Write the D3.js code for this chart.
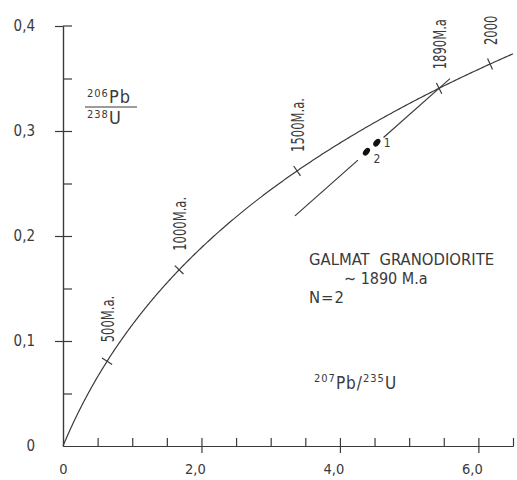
<!DOCTYPE html>
<html>
<head>
<meta charset="utf-8">
<script src="https://cdn.jsdelivr.net/npm/d3@7"></script>
<style>
  html, body { margin: 0; padding: 0; background: #fff; }
  svg { display: block; }
  text { font-family: "DejaVu Sans Condensed", "DejaVu Sans", sans-serif; fill: #3a3a3a; }
</style>
</head>
<body>
<svg id="chart" width="517" height="480"></svg>
<script>
// U-Pb concordia diagram, Galmat granodiorite

// decay constants (per year)
const lambda238 = 1.55125e-10;
const lambda235 = 9.8485e-10;

// ages marked on the concordia (Ma) and their labels
const markerAges = [500, 1000, 1500, 1890, 2000];
const markerLabels = ["500M.a.", "1000M.a.", "1500M.a.", "1890M.a", "2000"];

// zircon fractions: 207Pb/235U, 206Pb/238U
const sampleIds = ["1", "2"];
const sampleX = [4.533, 4.383];
const sampleY = [0.2889, 0.2803];

// discordia: intercept ages (Ma) and drawn pieces in 207Pb/235U
const discordiaAges = [255, 1890];
const discordiaPieces = [[3.35, 4.26], [4.63, 5.59]];

// axis ticks
const xMajor = [0, 2, 4, 6];
const xMinor = [0.5, 1, 1.5, 2, 2.5, 3, 3.5, 4, 4.5, 5, 5.5, 6, 6.5];
const xTickLabels = ["0", "2,0", "4,0", "6,0"];
const yMajor = [0, 0.1, 0.2, 0.3, 0.4];
const yMinor = [0.05, 0.1, 0.15, 0.2, 0.25, 0.3, 0.35];
const yTickLabels = ["0", "0,1", "0,2", "0,3", "0,4"];

const svg = d3.select("#chart");
const ink = "#3a3a3a";

const x = d3.scaleLinear().domain([0, 6.5]).range([63, 513]);
const y = d3.scaleLinear().domain([0, 0.4]).range([446, 26]);

const conc = t => ({
  x: Math.exp(lambda235 * t * 1e6) - 1,
  y: Math.exp(lambda238 * t * 1e6) - 1
});

// ---------- axes ----------
const gy = svg.append("g");
gy.append("g").attr("transform", `translate(${x(0)},0)`)
  .call(d3.axisRight(y).tickValues(yMinor).tickSize(9).tickSizeOuter(0).tickFormat(""));
gy.append("g").attr("transform", `translate(${x(0)},0)`)
  .call(d3.axisLeft(y).tickValues(yMajor).tickSize(8).tickSizeOuter(0).tickPadding(20)
    .tickFormat((d, i) => yTickLabels[i]));
gy.selectAll(".tick").filter(d => d === 0).select("line").remove();
// top end tick crosses the axis
gy.append("line").attr("x1", x(0)).attr("x2", x(0) + 9).attr("y1", y(0.4)).attr("y2", y(0.4));

const gx = svg.append("g");
gx.append("g").attr("transform", `translate(0,${y(0)})`)
  .call(d3.axisTop(x).tickValues(xMinor).tickSize(8).tickSizeOuter(0).tickFormat(""));
gx.append("g").attr("transform", `translate(0,${y(0)})`)
  .call(d3.axisBottom(x).tickValues(xMajor).tickSize(7).tickSizeOuter(0).tickPadding(11)
    .tickFormat((d, i) => xTickLabels[i]));
gx.selectAll(".tick").filter(d => d === 0).select("line").remove();
gx.selectAll(".tick text").filter(d => d !== 0).attr("dx", "-0.45em");

svg.selectAll(".domain, .tick line, line").attr("stroke", ink).attr("stroke-width", 1.2);
svg.selectAll(".tick text").attr("font-size", 15).attr("fill", ink)
  .style("font-family", '"DejaVu Sans Condensed", "DejaVu Sans", sans-serif');
gx.selectAll(".tick text").attr("font-size", 14.5);

// ---------- concordia ----------
const tMax = Math.log(1 + 6.5) / lambda235 / 1e6;
const curveAges = d3.range(0, tMax, 5).concat([tMax]);
svg.append("path")
  .datum(curveAges.map(conc))
  .attr("fill", "none").attr("stroke", ink).attr("stroke-width", 1.2)
  .attr("d", d3.line().x(d => x(d.x)).y(d => y(d.y)));

// age ticks across the curve, with rotated labels
markerAges.forEach((t, i) => {
  const p = conc(t), q = conc(t + 1);
  const px = x(p.x), py = y(p.y);
  const dx = x(q.x) - px, dy = y(q.y) - py, len = Math.hypot(dx, dy);
  const nx = -dy / len, ny = dx / len, h = 6;
  svg.append("line")
    .attr("x1", px - nx * h).attr("y1", py - ny * h)
    .attr("x2", px + nx * h).attr("y2", py + ny * h)
    .attr("stroke", ink).attr("stroke-width", 1.2);
  svg.append("text")
    .attr("transform", `translate(${px + 7},${py - 19}) rotate(-90) scale(0.92,1.22)`)
    .attr("font-size", 14)
    .text(markerLabels[i]);
});

// ---------- discordia ----------
const lo = conc(discordiaAges[0]), hi = conc(discordiaAges[1]);
const slope = (hi.y - lo.y) / (hi.x - lo.x);
const discY = v => lo.y + slope * (v - lo.x);
svg.selectAll("line.disc")
  .data(discordiaPieces)
  .join("line").attr("class", "disc")
  .attr("x1", d => x(d[0])).attr("y1", d => y(discY(d[0])))
  .attr("x2", d => x(d[1])).attr("y2", d => y(discY(d[1])))
  .attr("stroke", ink).attr("stroke-width", 1.2);

// ---------- samples ----------
const samples = sampleIds.map((id, i) => ({ id, x: sampleX[i], y: sampleY[i] }));
svg.selectAll("ellipse.pt")
  .data(samples)
  .join("ellipse").attr("class", "pt")
  .attr("transform", d => `translate(${x(d.x)},${y(d.y)}) rotate(-50)`)
  .attr("rx", 4.4).attr("ry", 2.8)
  .attr("fill", "#111");
svg.selectAll("text.pt")
  .data(samples)
  .join("text").attr("class", "pt")
  .attr("x", d => x(d.x) + 7)
  .attr("y", (d, i) => y(d.y) + (i === 0 ? 4 : 11))
  .attr("font-size", 12)
  .text(d => d.id);

// ---------- axis titles ----------
const yt = svg.append("text").attr("x", 87).attr("y", 103).attr("font-size", 18).attr("letter-spacing", 1);
yt.append("tspan").attr("font-size", 11).attr("dy", -6).text("206");
yt.append("tspan").attr("dy", 6).text("Pb");
svg.append("line").attr("x1", 85).attr("x2", 137).attr("y1", 107).attr("y2", 107)
  .attr("stroke", ink).attr("stroke-width", 1.2);
const yb = svg.append("text").attr("x", 87).attr("y", 124).attr("font-size", 18).attr("letter-spacing", 1);
yb.append("tspan").attr("font-size", 11).attr("dy", -6).text("238");
yb.append("tspan").attr("dy", 6).text("U");

const xt = svg.append("text").attr("x", 314).attr("y", 389).attr("font-size", 17).attr("letter-spacing", 1);
xt.append("tspan").attr("font-size", 11).attr("dy", -7).text("207");
xt.append("tspan").attr("dy", 7).text("Pb/");
xt.append("tspan").attr("font-size", 11).attr("dy", -7).text("235");
xt.append("tspan").attr("dy", 7).text("U");

// ---------- sample annotation ----------
svg.append("text").attr("x", 309).attr("y", 265).attr("font-size", 16.5)
  .attr("word-spacing", 5).text("GALMAT GRANODIORITE");
svg.append("text").attr("x", 344).attr("y", 284).attr("font-size", 16).text("∼ 1890 M.a");
svg.append("text").attr("x", 309).attr("y", 303).attr("font-size", 16.5).attr("letter-spacing", 1).text("N=2");
</script>
</body>
</html>
